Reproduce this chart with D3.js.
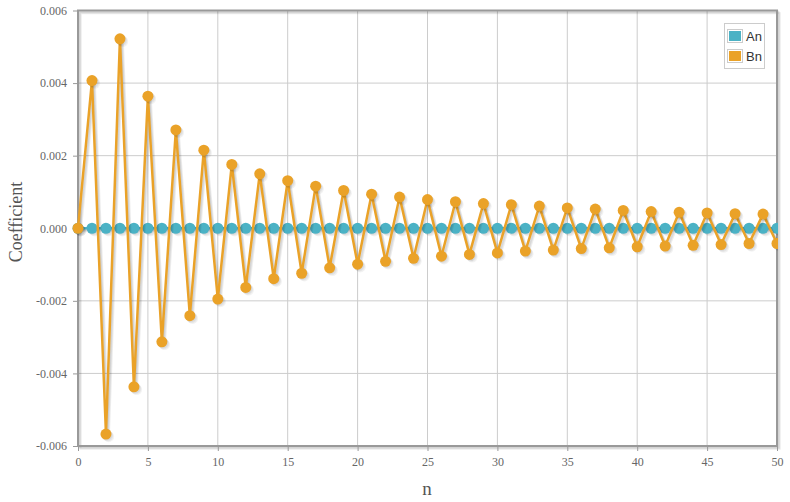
<!DOCTYPE html>
<html><head><meta charset="utf-8">
<script src="https://cdn.jsdelivr.net/npm/d3@7"></script>
<style>body{margin:0;background:#fff;}svg{display:block;}</style>
</head><body>
<svg id="chart" width="790" height="502"></svg>
<script>
const nValues = d3.range(0, 51);
const seriesNames = ["An", "Bn"];
const seriesColors = ["#4bb2c5", "#EAA228"];
const anValues = nValues.map(() => 0);
const bnValues = [0, 0.00407, -0.00567, 0.00522, -0.00437, 0.00364, -0.00313, 0.00271, -0.00241, 0.00215,
  -0.00195, 0.00176, -0.00163, 0.00150, -0.00139, 0.00131, -0.00124, 0.00116, -0.00109, 0.00104,
  -0.00099, 0.00094, -0.00091, 0.00086, -0.00083, 0.00079, -0.00077, 0.00073, -0.00072, 0.00068,
  -0.00068, 0.00065, -0.00063, 0.00061, -0.00060, 0.00056, -0.00056, 0.00053, -0.00054, 0.00049,
  -0.00051, 0.00046, -0.00049, 0.00044, -0.00047, 0.00042, -0.00045, 0.00040, -0.00042, 0.00039, -0.00042];
const xTicks = [0, 5, 10, 15, 20, 25, 30, 35, 40, 45, 50];
const yTicks = [-0.006, -0.004, -0.002, 0, 0.002, 0.004, 0.006];
const yTickLabels = ["-0.006", "-0.004", "-0.002", "0.000", "0.002", "0.004", "0.006"];
const xLabel = "n", yLabel = "Coefficient";

const svg = d3.select("#chart");
const L = 78, R = 777, T = 10.5, B = 446;
const x = d3.scaleLinear().domain([0, 50]).range([L, R]);
const y = d3.scaleLinear().domain([-0.006, 0.006]).range([B, T]);

// grid
const g = svg.append("g");
g.selectAll(".gx").data(xTicks).join("line")
  .attr("x1", d => x(d)).attr("x2", d => x(d)).attr("y1", T).attr("y2", B)
  .attr("stroke", "#cccccc").attr("stroke-width", 1);
g.selectAll(".gy").data(yTicks).join("line")
  .attr("y1", d => y(d)).attr("y2", d => y(d)).attr("x1", L).attr("x2", R)
  .attr("stroke", "#cccccc").attr("stroke-width", 1);

// border shadow
for (let i = 1; i <= 3; i++) {
  svg.append("rect").attr("x", L + i * 0.9).attr("y", T + i * 0.9).attr("width", R - L).attr("height", B - T)
    .attr("fill", "none").attr("stroke", "rgba(0,0,0,0.08)").attr("stroke-width", 2);
}
svg.append("rect").attr("x", L).attr("y", T).attr("width", R - L).attr("height", B - T)
  .attr("fill", "none").attr("stroke", "#999999").attr("stroke-width", 2);

// axes
const xAxis = d3.axisBottom(x).tickValues(xTicks).tickSize(4).tickPadding(6).tickFormat(d3.format("d"));
const yAxis = d3.axisLeft(y).tickValues(yTicks).tickSize(4).tickPadding(6).tickFormat((d, i) => yTickLabels[i]);
const gx = svg.append("g").attr("transform", `translate(0,${B + 1})`).call(xAxis);
const gy = svg.append("g").attr("transform", `translate(${L - 1},0)`).call(yAxis);
[gx, gy].forEach(a => {
  a.select(".domain").remove();
  a.selectAll("line").attr("stroke", "#999");
  a.selectAll("text").attr("fill", "#666").style("font-family", "'Liberation Serif', 'Times New Roman', serif").style("font-size", "12px");
});

// axis labels
svg.append("text").attr("x", 427).attr("y", 495).attr("text-anchor", "middle")
  .style("font-family", "'Liberation Serif', serif").style("font-size", "19px").attr("fill", "#555").text(xLabel);
svg.append("text").attr("transform", `translate(22,222) rotate(-90)`).attr("text-anchor", "middle")
  .style("font-family", "'Liberation Serif', serif").style("font-size", "18px").attr("fill", "#555").text(yLabel);

// series
const clip = svg.append("clipPath").attr("id", "clip").append("rect")
  .attr("x", L - 8).attr("y", 0).attr("width", R - L + 9).attr("height", 502);
const plot = svg.append("g").attr("clip-path", "url(#clip)");
const line = d3.line().x((d, i) => x(nValues[i])).y(d => y(d));
[anValues, bnValues].forEach((vals, si) => {
  const s = plot.append("g");
  for (let k = 3; k >= 1; k--) {
    s.append("path").datum(vals).attr("d", line).attr("fill", "none")
      .attr("stroke", "rgba(0,0,0,0.07)").attr("stroke-width", 2.5)
      .attr("transform", `translate(${k * 0.9},${k * 0.9})`);
  }
  s.append("path").datum(vals).attr("d", line).attr("fill", "none")
    .attr("stroke", seriesColors[si]).attr("stroke-width", 2.5).attr("stroke-linejoin", "round");
  for (let k = 3; k >= 1; k--) {
    s.selectAll(null).data(vals).join("circle")
      .attr("cx", (d, i) => x(nValues[i]) + k * 0.9).attr("cy", d => y(d) + k * 0.9).attr("r", 5.5)
      .attr("fill", "rgba(0,0,0,0.05)");
  }
  s.selectAll(null).data(vals).join("circle")
    .attr("cx", (d, i) => x(nValues[i])).attr("cy", d => y(d)).attr("r", 5.5)
    .attr("fill", seriesColors[si]);
});

// legend
const lg = svg.append("g");
lg.append("rect").attr("x", 724.5).attr("y", 23.5).attr("width", 40).attr("height", 45)
  .attr("fill", "#fff").attr("stroke", "#cccccc");
seriesNames.forEach((name, i) => {
  const yy = 29 + i * 20;
  lg.append("rect").attr("x", 727.5).attr("y", yy + 0.5).attr("width", 15).attr("height", 13)
    .attr("fill", "#fff").attr("stroke", "#cccccc");
  lg.append("rect").attr("x", 729).attr("y", yy + 2).attr("width", 12).attr("height", 10).attr("fill", seriesColors[i]);
  lg.append("text").attr("x", 746).attr("y", yy + 11.5)
    .style("font-family", "'Liberation Sans', Arial, sans-serif").style("font-size", "13px").attr("fill", "#333").text(name);
});
</script>
</body></html>
